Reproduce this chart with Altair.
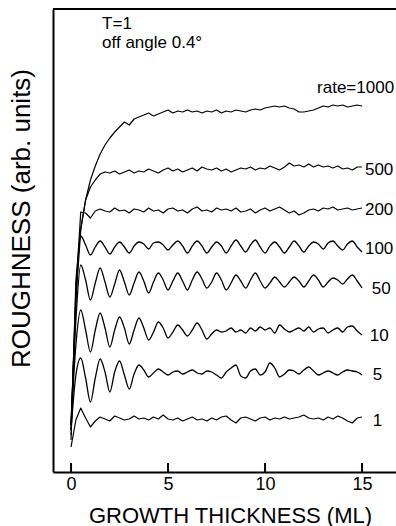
import altair as alt
import pandas as pd

FONT = "Liberation Sans"

# growth thickness grid (ML)
thickness = [0.0, 0.25, 0.5, 0.75, 1.0, 1.25, 1.5, 1.75, 2.0, 2.25, 2.5, 2.75, 3.0, 3.25, 3.5, 3.75,
             4.0, 4.25, 4.5, 4.75, 5.0, 5.25, 5.5, 5.75, 6.0, 6.25, 6.5, 6.75, 7.0, 7.25, 7.5, 7.75,
             8.0, 8.25, 8.5, 8.75, 9.0, 9.25, 9.5, 9.75, 10.0, 10.25, 10.5, 10.75, 11.0, 11.25, 11.5, 11.75,
             12.0, 12.25, 12.5, 12.75, 13.0, 13.25, 13.5, 13.75, 14.0, 14.25, 14.5, 14.75, 15.0]

# roughness (arb. units, curves offset as in the figure)
r1 = [25, 52, 64, 54, 45, 51, 55, 53, 51, 56, 54, 52, 53, 56, 53, 54, 52, 55, 53, 57, 53, 52, 54, 51, 53, 55, 52, 53, 51, 54,
      52, 55, 56, 52, 49, 54, 55, 53, 51, 54, 55, 52, 54, 53, 55, 53, 54, 55, 57, 54, 53, 54, 52, 55, 53, 56, 54, 51, 49, 54, 55]
r5 = [42, 97, 114, 94, 70, 94, 113, 100, 80, 100, 111, 97, 83, 98, 107, 102, 95, 99, 103, 100, 97, 100, 101, 98, 100, 102, 99, 98, 101, 100,
      97, 94, 100, 104, 107, 96, 94, 101, 103, 97, 100, 109, 104, 95, 98, 102, 101, 98, 102, 105, 101, 97, 99, 101, 99, 97, 100, 102, 101, 100, 97]
r10 = [47, 127, 162, 142, 120, 142, 159, 144, 125, 142, 155, 144, 128, 142, 154, 144, 132, 140, 150, 144, 134, 140, 147, 142, 136, 142, 149, 142, 133, 138,
       142, 140, 141, 144, 140, 142, 139, 144, 141, 145, 142, 144, 139, 147, 143, 140, 142, 144, 141, 145, 140, 143, 144, 139, 142, 144, 140, 145, 146, 141, 137]
r50 = [47, 152, 207, 192, 172, 189, 204, 190, 175, 188, 202, 190, 177, 189, 200, 191, 179, 190, 199, 192, 182, 191, 199, 191, 182, 192, 200, 193, 184, 190,
       199, 192, 182, 189, 197, 191, 184, 192, 199, 191, 184, 189, 195, 190, 185, 190, 195, 191, 185, 191, 197, 192, 185, 190, 194, 192, 188, 193, 197, 191, 184]
r100 = [47, 172, 236, 227, 217, 225, 231, 225, 218, 225, 230, 225, 219, 226, 230, 228, 223, 229, 230, 227, 222, 227, 231, 226, 219, 226, 231, 226, 219, 225,
        230, 226, 219, 226, 232, 226, 220, 227, 232, 225, 219, 226, 230, 225, 219, 225, 231, 226, 220, 226, 230, 228, 223, 229, 231, 226, 222, 228, 231, 225, 220]
r200 = [42, 182, 260, 259, 254, 261, 263, 261, 260, 264, 261, 262, 259, 263, 262, 260, 264, 261, 262, 259, 263, 264, 261, 262, 259, 263, 265, 261, 262, 260,
        264, 262, 263, 261, 264, 260, 261, 263, 259, 262, 264, 261, 263, 265, 262, 259, 261, 257, 259, 262, 263, 261, 264, 263, 265, 262, 263, 264, 262, 263, 264]
r500 = [37, 172, 242, 272, 285, 292, 298, 300, 299, 301, 298, 300, 302, 299, 301, 300, 303, 301, 299, 302, 304, 301, 303, 300, 302, 304, 301, 305, 303, 302,
        304, 301, 303, 300, 302, 304, 303, 305, 302, 304, 303, 306, 304, 302, 305, 309, 306, 307, 305, 308, 305, 307, 305, 306, 304, 306, 303, 304, 302, 305, 305]
r1000 = [32, 192, 244, 272, 292, 306, 318, 327, 334, 340, 345, 350, 347, 353, 355, 357, 359, 356, 358, 360, 362, 359, 361, 360, 362, 360, 361, 359, 361, 360,
         362, 359, 361, 360, 362, 361, 360, 362, 363, 362, 364, 365, 366, 365, 366, 364, 363, 360, 360, 361, 362, 364, 366, 365, 367, 366, 367, 365, 366, 367, 366]

oscillating = {"5": r5, "10": r10, "50": r50, "100": r100}
noisy = {"1": r1, "200": r200, "500": r500, "1000": r1000}

# curve labels
label_text = ["rate=1000", "500", "200", "100", "50", "10", "5", "1"]
label_x = [12.68, 15.15, 15.15, 15.15, 15.5, 15.4, 15.55, 15.55]
label_y = [384, 302, 262, 223, 183, 136, 97, 51]

# annotation block
note_text = ["T=1", "off angle 0.4°"]
note_x = [1.6, 1.6]
note_y = [443, 424]

tick_values = [0, 5, 10, 15]


def long_form(d):
    rows = []
    for rate, vals in d.items():
        for t, v in zip(thickness, vals):
            rows.append({"rate": rate, "thickness": t, "roughness": v})
    return pd.DataFrame(rows)


osc_df = long_form(oscillating)
noisy_df = long_form(noisy)
labels_df = pd.DataFrame({"thickness": label_x, "roughness": label_y, "text": label_text})
notes_df = pd.DataFrame({"thickness": note_x, "roughness": note_y, "text": note_text})
ticks_df = pd.DataFrame({"thickness": tick_values, "roughness": [0, 0, 0, 0]})

W, H = 343, 463
xscale = alt.Scale(domain=[-0.93, 16.75], nice=False, zero=False)
yscale = alt.Scale(domain=[0, 463], nice=False, zero=False)

x_axis = alt.Axis(
    values=tick_values, ticks=False, tickSize=0, grid=False, labelFlush=False,
    domainColor="black", domainWidth=2,
    labelFont=FONT, labelFontSize=18, labelColor="black", labelPadding=3,
    title="GROWTH THICKNESS (ML)", titleFont=FONT, titleFontSize=22, titleFontWeight="normal",
    titleColor="black", titleX=177, titleY=50, titleAlign="center", titleBaseline="alphabetic")
y_axis = alt.Axis(
    ticks=False, labels=False, grid=False, domainColor="black", domainWidth=2,
    title="ROUGHNESS (arb. units)", titleFont=FONT, titleFontSize=26, titleFontWeight="normal",
    titleColor="black", titleAngle=270, titleX=-32, titleY=209, titleAlign="center",
    titleBaseline="middle")

X = alt.X("thickness:Q", scale=xscale, axis=x_axis, title="GROWTH THICKNESS (ML)")
Y = alt.Y("roughness:Q", scale=yscale, axis=y_axis, title="ROUGHNESS (arb. units)")

lines_osc = alt.Chart(osc_df).mark_line(
    color="black", strokeWidth=1.3, strokeJoin="round", interpolate="monotone"
).encode(x=X, y=Y, detail="rate:N", order="thickness:Q")

lines_noisy = alt.Chart(noisy_df).mark_line(
    color="black", strokeWidth=1.2, strokeJoin="round"
).encode(x=X, y=Y, detail="rate:N", order="thickness:Q")

ticks = alt.Chart(ticks_df).mark_rule(color="black", strokeWidth=2).encode(
    x=X, y=alt.value(H - 9), y2=alt.value(H),
)

top = alt.Chart(pd.DataFrame({"k": [0]})).mark_rule(color="black", strokeWidth=2).encode(
    x=alt.value(0), x2=alt.value(W), y=alt.value(0),
)

curve_labels = alt.Chart(labels_df).mark_text(
    align="left", baseline="middle", font=FONT, fontSize=17, color="black"
).encode(x=X, y=Y, text="text:N")

notes = alt.Chart(notes_df).mark_text(
    align="left", baseline="alphabetic", font=FONT, fontSize=17, color="black"
).encode(x=X, y=Y, text="text:N")

chart = alt.layer(lines_osc, lines_noisy, ticks, top, curve_labels, notes).properties(
    width=W, height=H,
    padding={"left": 53, "top": 9, "right": 0, "bottom": 54},
    autosize=alt.AutoSizeParams(type="none"),
    background="white",
).configure_view(stroke=None)

chart.save("out.html", embed_options={"renderer": "svg", "actions": False})
